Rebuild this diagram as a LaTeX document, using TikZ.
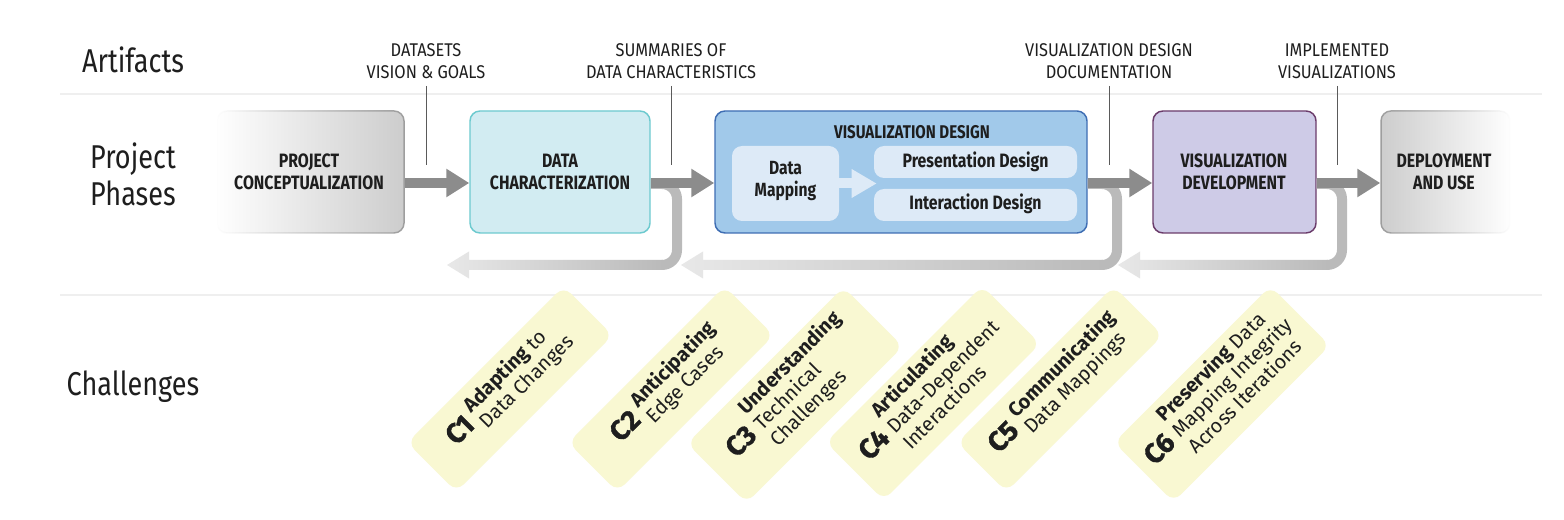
\documentclass[tikz,border=0pt]{standalone}
\usepackage{fontspec}
\setmainfont{Fira Sans}
\newfontfamily\cond{Fira Sans}[FakeStretch=0.82]
\newfontfamily\artf{Fira Sans}[FakeStretch=0.89]
\newfontfamily\cnumf{Fira Sans}[FakeBold=1.2]
\usetikzlibrary{arrows.meta,fadings}

\definecolor{txt}{HTML}{1E1E1E}
\definecolor{sepc}{HTML}{EFEFEF}
\definecolor{leaderc}{HTML}{5A5A5A}
\definecolor{arrowc}{HTML}{8C8C8C}
\definecolor{fbc}{HTML}{BABABA}
\definecolor{fbl}{HTML}{E8E8E8}
\definecolor{grayfill}{HTML}{CDCDCD}
\definecolor{grayborder}{HTML}{9E9E9E}
\definecolor{dcfill}{HTML}{D2ECF2}
\definecolor{dcborder}{HTML}{6DCACF}
\definecolor{vdfill}{HTML}{A1C9EA}
\definecolor{vdborder}{HTML}{3E6DB3}
\definecolor{innerc}{HTML}{DDEAF7}
\definecolor{vdevfill}{HTML}{CECBE7}
\definecolor{vdevborder}{HTML}{6B3C6B}
\definecolor{chalc}{HTML}{F9F8D2}

\tikzfading[name=fadeleft, left color=transparent!100, right color=transparent!0]
\tikzfading[name=faderight, left color=transparent!0, right color=transparent!100]

\newcommand\cnum[1]{\raisebox{3pt}{$\vcenter{\hbox{\cnumf\fontsize{21pt}{21pt}\selectfont\bfseries #1}}$}\hspace{5pt}}
\newcommand\chtx[1]{$\vcenter{\hbox{\begin{tabular}{@{}l@{}}#1\end{tabular}}}$}

\begin{document}
\begin{tikzpicture}[x=0.75pt, y=-0.75pt,
  sepline/.style={draw=sepc, line width=1.5pt},
  rowlabel/.style={font=\cond\fontsize{24.75pt}{27.75pt}\selectfont, text=txt, inner sep=0pt, align=center},
  artlabel/.style={font=\artf\fontsize{13.8pt}{16.2pt}\selectfont, text=txt, inner sep=0pt, align=center, anchor=south},
  leader/.style={draw=leaderc, line width=0.75pt},
  phasebox/.style={rounded corners=7.5pt, minimum height=91.5pt, inner sep=0pt, line width=1.1pt},
  phasetext/.style={font=\cond\bfseries\fontsize{14.5pt}{16.5pt}\selectfont, text=txt, align=center, inner sep=0pt},
  innerbox/.style={rounded corners=7.5pt, fill=innerc, inner sep=0pt},
  fwd/.style={draw=arrowc, line width=7.5pt, -{Triangle[length=17.25pt, width=20.25pt]}},
  fbline/.style={draw=fbc, line width=7.5pt, rounded corners=11.25pt},
  fbhead/.style={left color=fbl, right color=fbc, draw=none},
  chal/.style={rounded corners=7.5pt, fill=chalc, minimum width=165.75pt, inner sep=0pt},
  chtext/.style={font=\fontsize{15pt}{17pt}\selectfont, text=txt, inner sep=0pt}
]
\fill[white] (0,0) rectangle (1564,520);
\useasboundingbox (0,0) rectangle (1564,520);

% separators
\draw[sepline] (60,94) -- (1542,94);
\draw[sepline] (60,295) -- (1542,295);

% row labels
\node[rowlabel, anchor=base] (rart) at (133,72.7) {Artifacts};
\node[rowlabel, anchor=center] (rpp) at (133,174.5) {Project\\Phases};
\node[rowlabel, anchor=base] (rch) at (133,395) {Challenges};

% phase boxes
\node[phasebox, minimum width=140.25pt, fill=grayfill, draw=grayborder, path fading=fadeleft] (pc) at (310.5,172) {};
\node[phasebox, minimum width=135pt, fill=dcfill, draw=dcborder] (dc) at (560,172) {};
\node[phasebox, minimum width=279pt, fill=vdfill, draw=vdborder] (vd) at (901,172) {};
\node[phasebox, minimum width=122.25pt, fill=vdevfill, draw=vdevborder] (vdev) at (1234.5,172) {};
\node[phasebox, minimum width=96.75pt, fill=grayfill, draw=grayborder, path fading=faderight] (du) at (1445.5,172) {};

\node[phasetext] (pct) at (309,171.5) {PROJECT\\CONCEPTUALIZATION};
\node[phasetext] (dct) at (560,171.5) {DATA\\CHARACTERIZATION};
\node[phasetext] (vdevt) at (1234,171.5) {VISUALIZATION\\DEVELOPMENT};
\node[phasetext] (dut) at (1444,171.5) {DEPLOYMENT\\AND USE};
\node[phasetext, font=\cond\bfseries\fontsize{13.8pt}{16pt}\selectfont] (vdt) at (912,132) {VISUALIZATION DESIGN};

% inner boxes of visualization design
\node[innerbox, minimum width=80.25pt, minimum height=56.25pt] (dm) at (785.5,183.5) {};
\node[innerbox, minimum width=152.25pt, minimum height=24pt] (pd) at (975.5,162) {};
\node[innerbox, minimum width=152.25pt, minimum height=24pt] (id) at (975.5,205) {};
\node[phasetext, anchor=north, font=\cond\bfseries\fontsize{14.3pt}{16.5pt}\selectfont] (dmt) at (785.5,161) {Data\\Mapping};
\node[phasetext, anchor=base] (pdt) at (975.5,167.3) {Presentation Design};
\node[phasetext, anchor=base] (idt) at (975.5,210) {Interaction Design};
\draw[draw=innerc, line width=7.5pt, -{Triangle[length=18.75pt, width=20.25pt]}] (dm.east) -- ([xshift=2.25pt]pd.west |- dm.east);

% feedback arrows: bend (solid) then fading shaft and head
\coordinate (fb1c) at (677,265);
\coordinate (fb1m) at (662,265);
\coordinate (fb1e) at (447,265);
\coordinate (fb2c) at (1117,265);
\coordinate (fb2m) at (1102,265);
\coordinate (fb2e) at (681,265);
\coordinate (fb3c) at (1342,265);
\coordinate (fb3m) at (1327,265);
\coordinate (fb3e) at (1118,265);
\foreach \s/\c/\m/\e in {dc/fb1c/fb1m/fb1e, vd/fb2c/fb2m/fb2e, vdev/fb3c/fb3m/fb3e}{
  \draw[fbline] ([yshift=-9pt]\s.east) -| (\c) -- (\m);
  \shade[fbhead] ([xshift=0.75pt, yshift=3.75pt]\m) -- ([xshift=16.5pt, yshift=3.75pt]\e)
     -- ([xshift=16.5pt, yshift=10.125pt]\e) -- (\e) -- ([xshift=16.5pt, yshift=-10.125pt]\e)
     -- ([xshift=16.5pt, yshift=-3.75pt]\e) -- ([xshift=0.75pt, yshift=-3.75pt]\m) -- cycle;
}

% forward arrows
\draw[fwd] ([yshift=-8.25pt]pc.east) -- ([yshift=-8.25pt]dc.west);
\draw[fwd] ([yshift=-8.25pt]dc.east) -- ([yshift=-8.25pt]vd.west);
\draw[fwd] ([yshift=-8.25pt]vd.east) -- ([yshift=-8.25pt]vdev.west);
\draw[fwd] ([yshift=-8.25pt]vdev.east) -- ([yshift=-8.25pt]du.west);

% artifacts
\node[artlabel] (a1) at (426,79) {DATASETS\\VISION \& GOALS};
\node[artlabel] (a2) at (671,79) {SUMMARIES OF\\DATA CHARACTERISTICS};
\node[artlabel] (a3) at (1109,79) {VISUALIZATION DESIGN\\DOCUMENTATION};
\node[artlabel] (a4) at (1337,79) {IMPLEMENTED\\VISUALIZATIONS};
\coordinate (l1) at (426,165);
\coordinate (l2) at (671,165);
\coordinate (l3) at (1109,165);
\coordinate (l4) at (1337,165);
\draw[leader] ([yshift=-5.25pt]a1.south) -- (l1);
\draw[leader] ([yshift=-5.25pt]a2.south) -- (l2);
\draw[leader] ([yshift=-5.25pt]a3.south) -- (l3);
\draw[leader] ([yshift=-5.25pt]a4.south) -- (l4);

% challenges
\begin{scope}[shift={(510,389)}, rotate=45, transform shape]
  \node[chal, minimum height=52pt] (c1) at (0,0) {};
  \node[chtext] (c1t) at (0,-3) {\cnum{C1}\chtx{\textbf{Adapting} to\\Data Changes}};
\end{scope}
\begin{scope}[shift={(671,389)}, rotate=45, transform shape]
  \node[chal, minimum height=52pt] (c2) at (0,0) {};
  \node[chtext] (c2t) at (0,-3) {\cnum{C2}\chtx{\textbf{Anticipating}\\Edge Cases}};
\end{scope}
\begin{scope}[shift={(795,395)}, rotate=45, transform shape]
  \node[chal, minimum height=63pt] (c3) at (0,0) {};
  \node[chtext] (c3t) at (0,-2) {\cnum{C3}\chtx{\textbf{Understanding}\\Technical\\Challenges}};
\end{scope}
\begin{scope}[shift={(933,393)}, rotate=45, transform shape]
  \node[chal, minimum height=61.5pt] (c4) at (0,0) {};
  \node[chtext] (c4t) at (0,-2) {\cnum{C4}\chtx{\textbf{Articulating}\\Data-Dependent\\Interactions}};
\end{scope}
\begin{scope}[shift={(1060,389)}, rotate=45, transform shape]
  \node[chal, minimum height=52pt] (c5) at (0,0) {};
  \node[chtext] (c5t) at (0,-3) {\cnum{C5}\chtx{\textbf{Communicating}\\Data Mappings}};
\end{scope}
\begin{scope}[shift={(1222,394)}, rotate=45, transform shape]
  \node[chal, minimum height=63pt] (c6) at (0,0) {};
  \node[chtext] (c6t) at (0,-2) {\cnum{C6}\chtx{\textbf{Preserving} Data\\Mapping Integrity\\Across Iterations}};
\end{scope}
\end{tikzpicture}
\end{document}
